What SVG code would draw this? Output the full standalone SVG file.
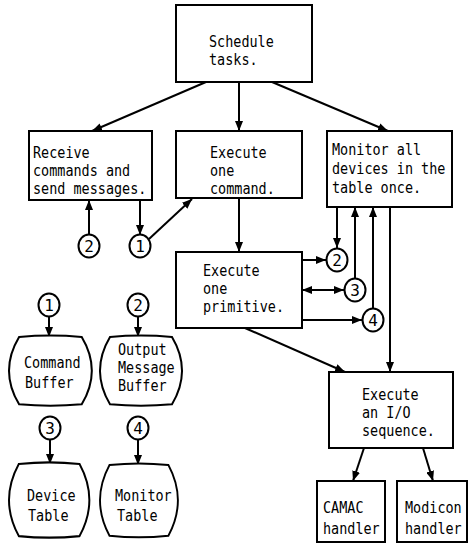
<svg xmlns="http://www.w3.org/2000/svg" width="472" height="545" viewBox="0 0 472 545">
  <style>
    .box { fill: #fff; stroke: #000; stroke-width: 2; }
    .store { fill: #fff; stroke: #000; stroke-width: 2; }
    .conn { fill: none; stroke: #000; stroke-width: 2; }
    .t { font-family: "DejaVu Sans Mono", "Liberation Mono", monospace; font-size: 15px; fill: #000; }
    .num { font-family: "DejaVu Sans Mono", "Liberation Mono", monospace; font-size: 16px; fill: #000; text-anchor: middle; }
    .ref { fill: #fff; stroke: #000; stroke-width: 2; }
  </style>
  <defs>
    <marker id="ah" viewBox="0 0 10 8" refX="10" refY="4" markerWidth="10" markerHeight="8" markerUnits="userSpaceOnUse" orient="auto-start-reverse">
      <path d="M0,0 L10,4 L0,8 Z" fill="#000"/>
    </marker>
    <!-- barrel-shaped data store outline, 82 x 68 -->
    <path id="barrel" d="M 10,0 Q 41,-3 72,0 Q 92,34 72,68 Q 41,71 10,68 Q -10,34 10,0 Z"/>
  </defs>
  <rect width="472" height="545" fill="#fff"/>

  <!-- connectors -->
  <g id="connectors" class="conn" marker-end="url(#ah)">
    <line x1="206" y1="82" x2="92" y2="131"/>
    <line x1="239" y1="82" x2="239" y2="131"/>
    <line x1="272" y1="82" x2="388" y2="131"/>
    <line x1="140" y1="200" x2="140" y2="235"/>
    <line x1="89" y1="235" x2="89" y2="200"/>
    <line x1="149" y1="239" x2="192" y2="199"/>
    <line x1="239" y1="198" x2="239" y2="252"/>
    <line x1="302" y1="260" x2="326" y2="260"/>
    <line x1="302" y1="290" x2="344" y2="290" marker-start="url(#ah)"/>
    <line x1="302" y1="320" x2="362" y2="320"/>
    <line x1="337" y1="207" x2="337" y2="248"/>
    <line x1="355" y1="278" x2="355" y2="207"/>
    <line x1="373" y1="308" x2="373" y2="207"/>
    <line x1="390" y1="207" x2="390" y2="372"/>
    <line x1="245" y1="328" x2="345" y2="372"/>
    <line x1="364" y1="448" x2="353" y2="481"/>
    <line x1="423" y1="448" x2="433" y2="481"/>
    <line x1="49" y1="317" x2="49" y2="337"/>
    <line x1="138" y1="317" x2="138" y2="337"/>
    <line x1="50" y1="440" x2="50" y2="464"/>
    <line x1="138" y1="440" x2="138" y2="465"/>
  </g>

  <!-- process boxes -->
  <g id="schedule">
    <rect class="box" x="176" y="5" width="136" height="77"/>
    <text class="t" x="209" y="47" textLength="64.8" lengthAdjust="spacingAndGlyphs">Schedule</text>
    <text class="t" x="209" y="65" textLength="48.6" lengthAdjust="spacingAndGlyphs">tasks.</text>
  </g>
  <g id="receive">
    <rect class="box" x="29" y="131" width="123" height="69"/>
    <text class="t" x="33" y="158" textLength="56.7" lengthAdjust="spacingAndGlyphs">Receive</text>
    <text class="t" x="33" y="176" textLength="97.2" lengthAdjust="spacingAndGlyphs">commands and</text>
    <text class="t" x="33" y="194" textLength="113.4" lengthAdjust="spacingAndGlyphs">send messages.</text>
  </g>
  <g id="exec-command">
    <rect class="box" x="176" y="131" width="126" height="67"/>
    <text class="t" x="210" y="158" textLength="56.7" lengthAdjust="spacingAndGlyphs">Execute</text>
    <text class="t" x="210" y="176" textLength="24.3" lengthAdjust="spacingAndGlyphs">one</text>
    <text class="t" x="210" y="194" textLength="64.8" lengthAdjust="spacingAndGlyphs">command.</text>
  </g>
  <g id="monitor">
    <rect class="box" x="327" y="131" width="125" height="76"/>
    <text class="t" x="332" y="155" textLength="89.1" lengthAdjust="spacingAndGlyphs">Monitor all</text>
    <text class="t" x="332" y="174" textLength="113.4" lengthAdjust="spacingAndGlyphs">devices in the</text>
    <text class="t" x="332" y="193" textLength="89.1" lengthAdjust="spacingAndGlyphs">table once.</text>
  </g>
  <g id="exec-primitive">
    <rect class="box" x="176" y="252" width="126" height="76"/>
    <text class="t" x="203" y="276" textLength="56.7" lengthAdjust="spacingAndGlyphs">Execute</text>
    <text class="t" x="203" y="294" textLength="24.3" lengthAdjust="spacingAndGlyphs">one</text>
    <text class="t" x="203" y="312" textLength="81" lengthAdjust="spacingAndGlyphs">primitive.</text>
  </g>
  <g id="exec-io">
    <rect class="box" x="329" y="372" width="124" height="76"/>
    <text class="t" x="362" y="400" textLength="56.7" lengthAdjust="spacingAndGlyphs">Execute</text>
    <text class="t" x="362" y="418" textLength="48.6" lengthAdjust="spacingAndGlyphs">an I/O</text>
    <text class="t" x="362" y="436" textLength="72.9" lengthAdjust="spacingAndGlyphs">sequence.</text>
  </g>
  <g id="camac">
    <rect class="box" x="317" y="481" width="68" height="61"/>
    <text class="t" x="323" y="513" textLength="40.5" lengthAdjust="spacingAndGlyphs">CAMAC</text>
    <text class="t" x="323" y="534" textLength="56.7" lengthAdjust="spacingAndGlyphs">handler</text>
  </g>
  <g id="modicon">
    <rect class="box" x="397" y="481" width="70" height="61"/>
    <text class="t" x="405" y="513" textLength="56.7" lengthAdjust="spacingAndGlyphs">Modicon</text>
    <text class="t" x="405" y="534" textLength="56.7" lengthAdjust="spacingAndGlyphs">handler</text>
  </g>

  <!-- numbered references around the flow -->
  <g id="ref-1a"><ellipse class="ref" cx="140" cy="246" rx="10.5" ry="11.5"/><text class="num" x="140" y="252">1</text></g>
  <g id="ref-2a"><ellipse class="ref" cx="89" cy="246" rx="10.5" ry="11.5"/><text class="num" x="89" y="252">2</text></g>
  <g id="ref-2b"><ellipse class="ref" cx="337" cy="260" rx="10.5" ry="11.5"/><text class="num" x="337" y="266">2</text></g>
  <g id="ref-3b"><ellipse class="ref" cx="355" cy="290" rx="10.5" ry="11.5"/><text class="num" x="355" y="296">3</text></g>
  <g id="ref-4b"><ellipse class="ref" cx="373" cy="320" rx="10.5" ry="11.5"/><text class="num" x="373" y="326">4</text></g>

  <!-- data stores -->
  <g id="ref-1"><ellipse class="ref" cx="49" cy="305" rx="10.5" ry="11.5"/><text class="num" x="49" y="311">1</text></g>
  <g id="ref-2"><ellipse class="ref" cx="138" cy="305" rx="10.5" ry="11.5"/><text class="num" x="138" y="311">2</text></g>
  <g id="ref-3"><ellipse class="ref" cx="50" cy="428" rx="10.5" ry="11.5"/><text class="num" x="50" y="434">3</text></g>
  <g id="ref-4"><ellipse class="ref" cx="138" cy="428" rx="10.5" ry="11.5"/><text class="num" x="138" y="434">4</text></g>

  <g id="command-buffer">
    <use href="#barrel" class="store" transform="translate(9,337) scale(1.01,0.99)"/>
    <text class="t" x="24" y="368" textLength="56.7" lengthAdjust="spacingAndGlyphs">Command</text>
    <text class="t" x="25" y="388" textLength="48.6" lengthAdjust="spacingAndGlyphs">Buffer</text>
  </g>
  <g id="output-buffer">
    <use href="#barrel" class="store" transform="translate(100,337) scale(1,0.99)"/>
    <text class="t" x="118" y="355" textLength="48.6" lengthAdjust="spacingAndGlyphs">Output</text>
    <text class="t" x="118" y="373" textLength="56.7" lengthAdjust="spacingAndGlyphs">Message</text>
    <text class="t" x="118" y="391" textLength="48.6" lengthAdjust="spacingAndGlyphs">Buffer</text>
  </g>
  <g id="device-table">
    <use href="#barrel" class="store" transform="translate(9,464) scale(0.98,1.06)"/>
    <text class="t" x="27" y="501" textLength="48.6" lengthAdjust="spacingAndGlyphs">Device</text>
    <text class="t" x="28" y="521" textLength="40.5" lengthAdjust="spacingAndGlyphs">Table</text>
  </g>
  <g id="monitor-table">
    <use href="#barrel" class="store" transform="translate(100,465) scale(0.95,1.04)"/>
    <text class="t" x="115" y="501" textLength="56.7" lengthAdjust="spacingAndGlyphs">Monitor</text>
    <text class="t" x="117" y="521" textLength="40.5" lengthAdjust="spacingAndGlyphs">Table</text>
  </g>
</svg>
